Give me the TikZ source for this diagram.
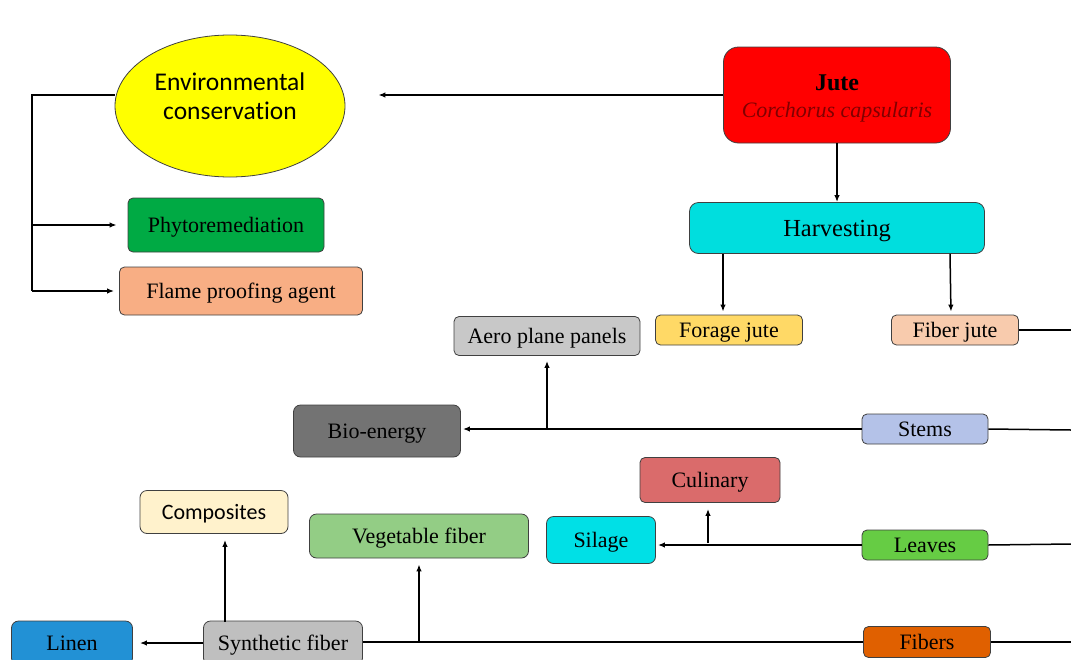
\documentclass[tikz,border=0pt]{standalone}
\usepackage{fontspec}
\setmainfont{Liberation Serif}
\newfontfamily\carlito[Ligatures=NoCommon]{Carlito}
\usepackage{tikz}
\usetikzlibrary{arrows.meta,shapes.geometric,calc}
\usepackage{xcolor}
\definecolor{envyellow}{HTML}{FFFF00}
\definecolor{jutered}{HTML}{FF0000}
\definecolor{jutetext}{HTML}{800000}
\definecolor{harvcyan}{HTML}{00DEDE}
\definecolor{foragejute}{HTML}{FFD966}
\definecolor{fiberjute}{HTML}{F8CBAD}
\definecolor{stemblue}{HTML}{B4C2E8}
\definecolor{biogray}{HTML}{737373}
\definecolor{aerogray}{HTML}{C8C8C8}
\definecolor{culinary}{HTML}{DA6B6B}
\definecolor{silagecyan}{HTML}{00E0E6}
\definecolor{leavesgreen}{HTML}{66CC44}
\definecolor{vegfiber}{HTML}{93CD85}
\definecolor{composites}{HTML}{FFF2CC}
\definecolor{synthgray}{HTML}{BFBFBF}
\definecolor{linenblue}{HTML}{2291D5}
\definecolor{fibersorange}{HTML}{E06000}
\definecolor{phytogreen}{HTML}{00AA44}
\definecolor{flameorange}{HTML}{F8AE84}

\begin{document}
\begin{tikzpicture}[x=1pt,y=-1pt,>={Latex[length=7pt,width=5.5pt]},
  shell/.style={draw=black!75,line width=0.8pt,rounded corners=5pt,inner sep=0pt},
  box/.style={shell,text height=19.5pt,text depth=4.5pt,font=\fontsize{22}{26}\selectfont},
  link/.style={line width=1.5pt}]
  \clip (0,0) rectangle (1071,659);
  % Source and harvesting
  \node[shell,fill=jutered,rounded corners=15pt,minimum width=227,minimum height=96,align=center,
    font=\fontsize{22}{27}\selectfont] (jute) at (837,95)
    {\rule{0pt}{22pt}{\fontsize{24}{27}\selectfont\textbf{Jute}}\\{\itshape\color{jutetext}Corchorus capsularis}};
  \node[box,fill=harvcyan,rounded corners=9pt,minimum width=295,minimum height=51,
    text height=22pt,text depth=5pt,font=\fontsize{24.5}{28}\selectfont] (harv) at (837,228) {Harvesting};
  \node[box,fill=foragejute,minimum width=147,minimum height=30] (forage) at (729,330) {Forage jute};
  \node[box,fill=fiberjute,minimum width=127,minimum height=30] (fjute) at (955,330) {Fiber jute};
  % Environmental branch
  \node[ellipse,draw=black!75,line width=0.8pt,fill=envyellow,minimum width=230,minimum height=142,inner sep=0pt,
    align=center,font=\carlito\fontsize{25.5}{29}\selectfont] (env) at (230,106)
    {Environmental\\conservation\rule[-20pt]{0pt}{0pt}};
  \node[box,fill=phytogreen,minimum width=196,minimum height=54] (phyto) at (226,225) {Phytoremediation};
  \node[box,fill=flameorange,minimum width=243,minimum height=48] (flame) at (241,291) {Flame proofing agent};
  % Stems
  \node[box,fill=stemblue,minimum width=126,minimum height=30] (stems) at (925,429) {Stems};
  \node[box,fill=biogray,rounded corners=7pt,minimum width=167,minimum height=52] (bio) at (377,431) {Bio-energy};
  \node[box,fill=aerogray,minimum width=186,minimum height=39] (aero) at (547,336) {Aero plane panels};
  % Leaves
  \node[box,fill=leavesgreen,minimum width=126,minimum height=30] (leaves) at (925,545) {Leaves};
  \node[box,fill=silagecyan,rounded corners=7pt,minimum width=109,minimum height=47] (silage) at (601,540) {Silage};
  \node[box,fill=culinary,minimum width=140,minimum height=45] (culin) at (710,480) {Culinary};
  % Fibers
  \node[box,fill=fibersorange,minimum width=127,minimum height=31] (fibers) at (927,642) {Fibers};
  \node[box,fill=synthgray,rounded corners=7pt,minimum width=159,minimum height=44] (synth) at (283,643) {Synthetic fiber};
  \node[box,fill=linenblue,rounded corners=7pt,minimum width=121,minimum height=44] (linen) at (72,643) {Linen};
  \node[box,fill=vegfiber,rounded corners=7pt,minimum width=219,minimum height=44] (veg) at (419,536) {Vegetable fiber};
  \node[box,fill=composites,rounded corners=7pt,minimum width=148,minimum height=43,
    font=\carlito\fontsize{22}{26}\selectfont] (comp) at (214,512) {Composites};
  % Free ends at the right edge and branch points
  \coordinate (rfjute) at (1071,330);
  \coordinate (rstems) at (1071,430);
  \coordinate (rleaves) at (1071,544);
  \coordinate (rfibers) at (1071,642);
  \coordinate (bk) at (32,95);
  \coordinate (jaero) at (547,428);
  \coordinate (jculin) at (708,543);
  \coordinate (jveg) at (419,642);
  \coordinate (jcomp) at (225,622);
  % Connectors
  \draw[link,->,shorten >=33pt] (jute.west) -- (env.east |- jute.west);
  \draw[link,->] (jute.south) -- (harv.north);
  \draw[link,->,shorten >=3pt] ([xshift=-114pt]harv.south) -- ([xshift=-6pt]forage.north);
  \draw[link,->,shorten >=3pt] ([xshift=113pt]harv.south) -- ([xshift=-4pt]fjute.north);
  \draw[link] ([yshift=11pt]env.west) -- (bk) -- (bk |- flame.west);
  \draw[link,->,shorten >=11pt] (bk |- phyto.west) -- (phyto.west);
  \draw[link,->,shorten >=5pt] (bk |- flame.west) -- (flame.west);
  \draw[link] (fjute.east) -- (rfjute);
  \draw[link] (stems.east) -- (rstems);
  \draw[link,->,shorten >=2pt] (stems.west) -- (bio.east |- stems.west);
  \draw[link,->,shorten >=5pt] (jaero) -- (jaero |- aero.south);
  \draw[link] (leaves.east) -- (rleaves);
  \draw[link,->,shorten >=2pt] (leaves.west) -- (silage.east |- leaves.west);
  \draw[link,->,shorten >=6pt] (jculin) -- (jculin |- culin.south);
  \draw[link] (fibers.east) -- (rfibers);
  \draw[link] (fibers.west) -- (synth.east |- fibers.west);
  \draw[link,->,shorten >=6pt] (jveg) -- (veg.south);
  \draw[link,->,shorten >=6pt] (jcomp) -- (jcomp |- comp.south);
  \draw[link,->,shorten >=7pt] (synth.west) -- (linen.east);
\end{tikzpicture}
\end{document}
